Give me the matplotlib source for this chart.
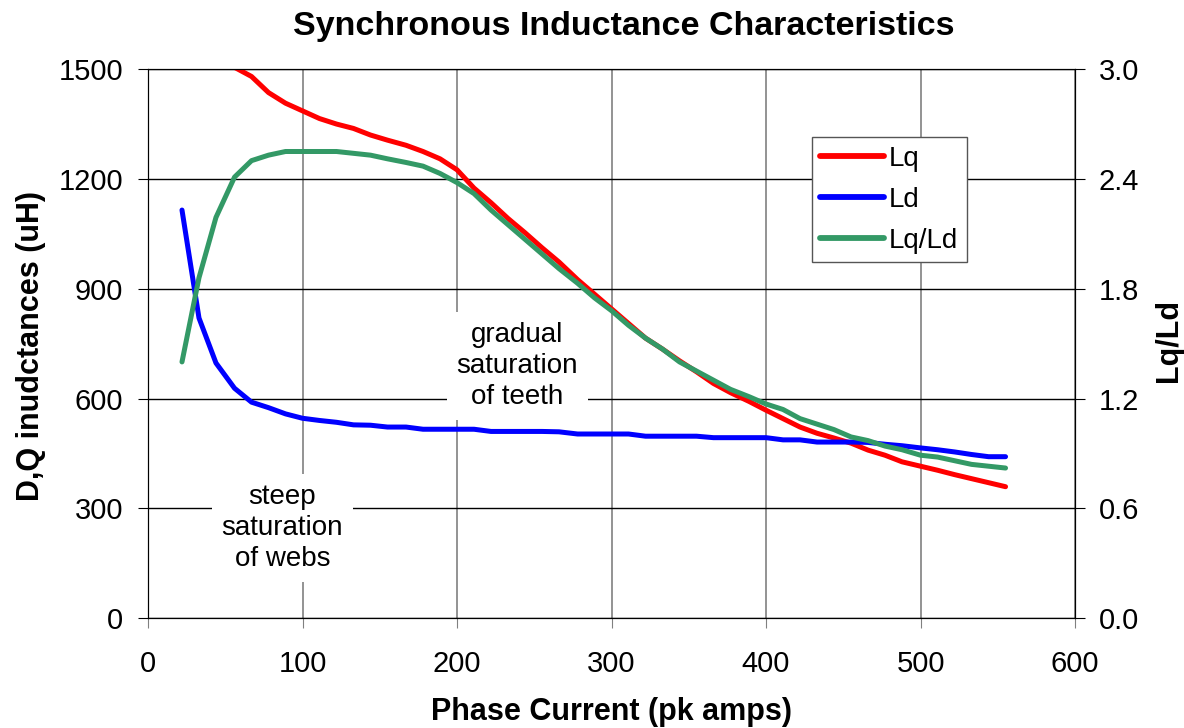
import matplotlib.pyplot as plt

plt.rcParams['font.family'] = ['Liberation Sans', 'DejaVu Sans']

# phase current (pk amps)
current = [22, 33, 44, 56, 67, 78, 89, 100, 111, 122, 133, 144, 155, 167, 178,
           189, 200, 211, 222, 233, 244, 255, 266, 278, 289, 300, 311, 322, 333,
           344, 355, 366, 377, 389, 400, 411, 422, 433, 444, 455, 466, 477, 488,
           500, 511, 522, 533, 544, 555]

# q-axis inductance (uH)
lq = [1550, 1535, 1525, 1505, 1480, 1436, 1407, 1386, 1365, 1350, 1338, 1320,
      1306, 1292, 1275, 1255, 1225, 1175, 1135, 1092, 1053, 1012, 973, 925, 885,
      845, 805, 765, 735, 703, 673, 641, 616, 592, 568, 545, 522, 505, 492, 478,
      459, 445, 427, 415, 404, 392, 381, 370, 359]

# d-axis inductance (uH)
ld = [1115, 820, 697, 628, 590, 575, 558, 546, 540, 535, 528, 527, 522, 522,
      516, 516, 516, 516, 510, 510, 510, 510, 509, 503, 503, 503, 503, 497, 497,
      497, 497, 493, 493, 493, 493, 487, 487, 481, 481, 481, 480, 475, 471, 465,
      460, 454, 447, 441, 441]

# saliency ratio
ratio = [1.40, 1.86, 2.19, 2.41, 2.50, 2.53, 2.55, 2.55, 2.55, 2.55, 2.54, 2.53,
         2.51, 2.49, 2.47, 2.43, 2.38, 2.32, 2.23, 2.15, 2.07, 1.99, 1.91, 1.83,
         1.75, 1.68, 1.60, 1.53, 1.47, 1.40, 1.35, 1.30, 1.25, 1.21, 1.17, 1.14,
         1.09, 1.06, 1.03, 0.99, 0.97, 0.94, 0.92, 0.89, 0.88, 0.86, 0.84, 0.83,
         0.82]

fig = plt.figure(figsize=(11.84, 7.28), dpi=100)
ax = fig.add_axes([0.125, 0.151, 0.783, 0.754])
ax2 = ax.twinx()

l1, = ax.plot(current, lq, color='#ff0000', lw=3.6, solid_capstyle='round', zorder=3)
l2, = ax.plot(current, ld, color='#0000ff', lw=3.6, solid_capstyle='round', zorder=3)
l3, = ax2.plot(current, ratio, color='#339966', lw=3.6, solid_capstyle='round')

ax.set_xlim(0, 600)
ax.set_ylim(0, 1500)
ax2.set_ylim(0, 3.0)
ax.set_xticks(range(0, 601, 100))
ax.set_yticks(range(0, 1501, 300))
ax2.set_yticks([0, 0.6, 1.2, 1.8, 2.4, 3.0])
ax2.set_yticklabels(['0.0', '0.6', '1.2', '1.8', '2.4', '3.0'])

ax.grid(True, axis='y', color='black', lw=1)
ax.grid(True, axis='x', color='#808080', lw=1.2)
ax.set_axisbelow(True)
ax.tick_params(axis='x', labelsize=21, length=7, pad=16, color='#808080')
ax.tick_params(axis='y', labelsize=21, length=7, pad=11)
ax2.tick_params(axis='y', labelsize=21, length=7, pad=10)

ax.set_xlabel('Phase Current (pk amps)', fontsize=22, fontweight='bold', va='center')
ax.set_ylabel('D,Q inudctances (uH)', fontsize=22, fontweight='bold', va='center')
ax2.set_ylabel('Lq/Ld', fontsize=22, fontweight='bold', va='center')
ax.xaxis.set_label_coords(0.5, -0.171)
ax.yaxis.set_label_coords(-0.126, 0.495)
ax2.yaxis.set_label_coords(1.101, 0.505)
fig.suptitle('Synchronous Inductance Characteristics', fontsize=24.5,
             fontweight='bold', x=0.527, y=0.963, va='center')

box = dict(facecolor='white', edgecolor='none', pad=7)
ax.text(239, 689, 'gradual\nsaturation\nof teeth', ha='center', va='center',
        fontsize=20, linespacing=1.25, bbox=box, zorder=2)
ax.text(87, 246, 'steep\nsaturation\nof webs', ha='center', va='center',
        fontsize=20, linespacing=1.25, bbox=box, zorder=2)

leg = ax2.legend([l1, l2, l3], ['Lq', 'Ld', 'Lq/Ld'], loc='upper left',
                 bbox_to_anchor=(0.716, 0.876), borderaxespad=0, fontsize=20,
                 fancybox=False, edgecolor='#555555', framealpha=1,
                 handlelength=2.3, handletextpad=0.18, borderpad=0.3,
                 labelspacing=0.55)
leg.get_frame().set_linewidth(1)
for h in leg.get_lines():
    h.set_solid_capstyle('round')
    h.set_linewidth(4.2)

fig.savefig('out.png', dpi=100)
